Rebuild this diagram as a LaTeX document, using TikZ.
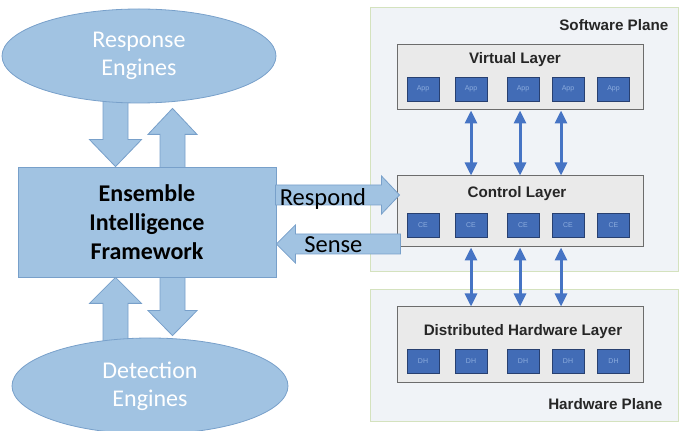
\documentclass[tikz,border=0pt]{standalone}
\usepackage{fontspec}
\setmainfont{Carlito}
\newfontfamily\arialfont{Liberation Sans}
\usetikzlibrary{calc, arrows.meta, shapes.geometric, backgrounds, positioning}

\definecolor{b1}{RGB}{161,195,226}
\definecolor{b2}{RGB}{120,160,202}
\definecolor{b3}{RGB}{66,108,182}
\definecolor{b4}{RGB}{40,64,112}
\definecolor{b5}{RGB}{140,172,222}
\definecolor{a1}{RGB}{70,116,196}
\definecolor{p1}{RGB}{240,243,247}
\definecolor{p2}{RGB}{212,226,190}
\definecolor{l1}{RGB}{234,234,234}
\definecolor{l2}{RGB}{108,108,108}

\newcommand{\fatarrow}[5]{%
	\coordinate (fa-a) at (#1);
	\coordinate (fa-b) at (#2);
	\coordinate (fa-h) at ($(fa-b)!#5!(fa-a)$);
	\filldraw[fat] ($(fa-a)!#3!90:(fa-b)$) -- ($(fa-h)!#3!90:(fa-b)$) -- ($(fa-h)!#4!90:(fa-b)$) -- (fa-b) -- ($(fa-h)!#4!-90:(fa-b)$) -- ($(fa-h)!#3!-90:(fa-b)$) -- ($(fa-a)!#3!-90:(fa-b)$) -- cycle;
}

\begin{document}
\begin{tikzpicture}[x=1pt, y=1pt,
		engine/.style={ellipse, draw=b2, fill=b1, line width=0.8pt, inner sep=0pt, align=center, text=white, font=\fontsize{24}{28}\selectfont},
		fat/.style={draw=b2, fill=b1, line width=0.8pt},
		plane/.style={draw=p2, fill=p1, line width=1pt, minimum width=308pt, inner sep=0pt},
		layer/.style={draw=l2, fill=l1, line width=1pt, minimum width=246pt, inner sep=0pt},
		ltitle/.style={inner sep=0pt, text=black!85, font=\arialfont\bfseries\fontsize{15.2}{17}\selectfont},
		unit/.style={draw=b4, fill=b3, line width=0.8pt, minimum width=32pt, minimum height=24pt, inner sep=0pt, text=b5, font=\arialfont\fontsize{7}{8}\selectfont},
		dbl/.style={a1, line width=3pt, {Triangle[width=12pt,length=13pt]}-{Triangle[width=12pt,length=13pt]}}
	]
		\useasboundingbox (0,0) rectangle (680,431);
		
		\node[engine, minimum width=274pt, minimum height=94pt] (resp) at (139,375) {Response\\Engines};
		\node[engine, minimum width=276pt, minimum height=96pt] (det) at (150,45) {Detection\\Engines};
		\node[draw=b2, fill=b1, line width=0.8pt, minimum width=258pt, minimum height=110pt, inner sep=0pt, align=center, font=\bfseries\fontsize{24}{29}\selectfont] (eif) at (147,209) {Ensemble\\Intelligence\\Framework};
		
		\coordinate (c1) at (115.5,0);
		\coordinate (c2) at (172.5,0);
		\begin{scope}[on background layer]
			\fatarrow{resp.center -| c1}{eif.north -| c1}{12.5pt}{26pt}{27pt}
			\fatarrow{eif.center -| c2}{$(resp.south -| c2)+(0,-5)$}{12.5pt}{24.5pt}{26pt}
			\fatarrow{det.center -| c1}{eif.south -| c1}{12.5pt}{26pt}{26pt}
			\fatarrow{eif.center -| c2}{$(det.north -| c2)+(0,2)$}{12.5pt}{24.5pt}{25pt}
		\end{scope}
		
		\node[plane, minimum height=264pt] (sw) at (524,291) {};
		\node[plane, minimum height=132pt] (hw) at (524,75) {};
		\node[ltitle, anchor=east] (swt) at ($(sw.north east)+(-10,-18)$) {Software Plane};
		\node[ltitle, anchor=east] (hwt) at ($(hw.south east)+(-16,18)$) {Hardware Plane};
		
		\node[layer, minimum height=65pt] (virt) at (520,353.5) {};
		\node[layer, minimum height=71pt] (ctl) at (520,219.5) {};
		\node[layer, minimum height=76pt] (dhl) at (520,86) {};
		\node[ltitle] (virtt) at ($(virt.north)+(-5,-15.5)$) {Virtual Layer};
		\node[ltitle] (ctlt) at ($(ctl.north)+(-3,-18)$) {Control Layer};
		\node[ltitle] (dhlt) at ($(dhl.north)+(3,-25.5)$) {Distributed Hardware Layer};
		
		\node[unit] (app1) at ($(virt.south)+(-97,21.5)$) {App};
		\node[unit] (app2) at ($(virt.south)+(-49,21.5)$) {App};
		\node[unit] (app3) at ($(virt.south)+(3,21.5)$) {App};
		\node[unit] (app4) at ($(virt.south)+(48,21.5)$) {App};
		\node[unit] (app5) at ($(virt.south)+(93.5,21.5)$) {App};
		
		\node[unit] (ce1) at ($(ctl.south)+(-97,22.5)$) {CE};
		\node[unit] (ce2) at ($(ctl.south)+(-49,22.5)$) {CE};
		\node[unit] (ce3) at ($(ctl.south)+(3,22.5)$) {CE};
		\node[unit] (ce4) at ($(ctl.south)+(48,22.5)$) {CE};
		\node[unit] (ce5) at ($(ctl.south)+(93.5,22.5)$) {CE};
		
		\node[unit] (dh1) at ($(dhl.south)+(-97,22.5)$) {DH};
		\node[unit] (dh2) at ($(dhl.south)+(-49,22.5)$) {DH};
		\node[unit] (dh3) at ($(dhl.south)+(3,22.5)$) {DH};
		\node[unit] (dh4) at ($(dhl.south)+(48,22.5)$) {DH};
		\node[unit] (dh5) at ($(dhl.south)+(93.5,22.5)$) {DH};
		
		\draw[dbl] ($(virt.south)+(-49,0)$) -- ($(ctl.north)+(-49,0)$);
		\draw[dbl] (virt.south) -- (ctl.north);
		\draw[dbl] ($(virt.south)+(41,0)$) -- ($(ctl.north)+(41,0)$);
		\draw[dbl] ($(ctl.south)+(-49,0)$) -- ($(dhl.north)+(-49,0)$);
		\draw[dbl] (ctl.south) -- (dhl.north);
		\draw[dbl] ($(ctl.south)+(41,0)$) -- ($(dhl.north)+(41,0)$);
		
		\fatarrow{$(eif.east)+(-1,27)$}{$(ctl.west)+(3,16.5)$}{10pt}{19pt}{18pt}
		\fatarrow{$(ctl.west)+(4,-32.5)$}{$(eif.east)+(0,-22)$}{10pt}{19pt}{19pt}
		\node[font=\fontsize{24.5}{26}\selectfont] (rtxt) at ($(eif.east)+(46.5,23)$) {Respond};
		\node[font=\fontsize{24.5}{26}\selectfont] (stxt) at ($(eif.east)+(57,-22.5)$) {Sense};
	
	\end{tikzpicture}
\end{document}
